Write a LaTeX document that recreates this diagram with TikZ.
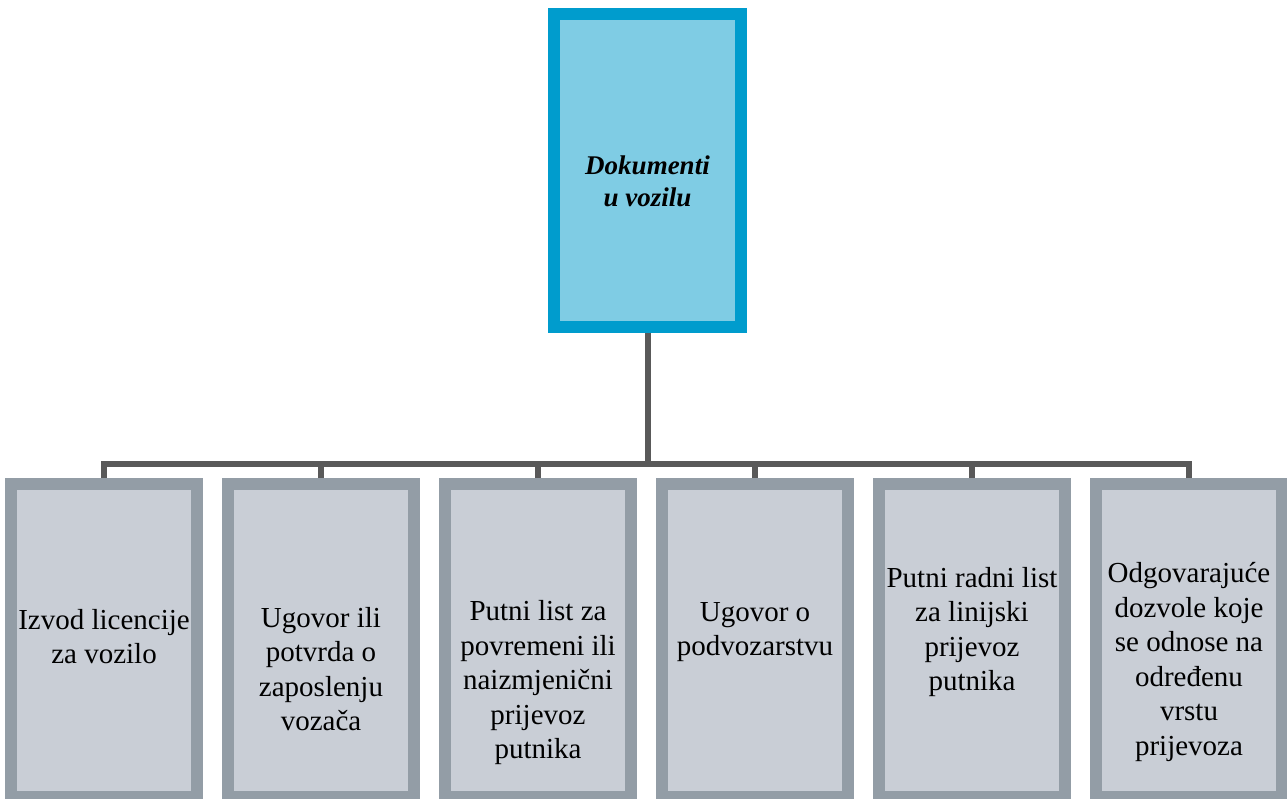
\documentclass[tikz,border=0pt]{standalone}
\usepackage{fontspec}
\setmainfont{Liberation Serif}
\definecolor{headline}{HTML}{009CCD}
\definecolor{headfill}{HTML}{7FCCE4}
\definecolor{itemline}{HTML}{939DA6}
\definecolor{itemfill}{HTML}{C9CED6}
\definecolor{linkgray}{HTML}{595959}
\begin{document}
\begin{tikzpicture}[x=1pt,y=-1pt,
    headbox/.style={draw=headline,fill=headfill,line width=12pt,
      minimum width=187pt,minimum height=313pt,inner sep=0pt},
    itembox/.style={draw=itemline,fill=itemfill,line width=12pt,
      minimum width=186pt,minimum height=313pt,inner sep=0pt},
    headtext/.style={align=center,inner sep=0pt,
      font=\fontsize{27}{32}\selectfont\bfseries\itshape},
    itemtext/.style={align=center,inner sep=0pt,
      font=\fontsize{29}{34.5}\selectfont},
    link/.style={draw=linkgray,line width=6pt}]
  \useasboundingbox (0,0) rectangle (1287,799);
  % boxes
  \node[headbox] (doc) at (647.5,170.5) {};
  \node[itembox] (b1) at (104,640.5) {};
  \node[itembox] (b2) at (321,640.5) {};
  \node[itembox] (b3) at (538,640.5) {};
  \node[itembox] (b4) at (755,640.5) {};
  \node[itembox] (b5) at (972,640.5) {};
  \node[itembox] (b6) at (1189,640.5) {};
  % texts
  \node[headtext] (doct) at (647.5,181) {Dokumenti\\u vozilu};
  \node[itemtext] (t1) at (104,636.5) {Izvod licencije\\za vozilo};
  \node[itemtext] (t2) at (321,669) {Ugovor ili\\potvrda o\\zaposlenju\\vozača};
  \node[itemtext] (t3) at (538,683) {Putni list za\\povremeni ili\\naizmjenični\\prijevoz\\putnika};
  \node[itemtext] (t4) at (755,632) {Ugovor o\\podvozarstvu};
  \node[itemtext] (t5) at (972,632) {Putni radni list\\za linijski\\prijevoz\\putnika};
  \node[itemtext] (t6) at (1189,662) {Odgovarajuće\\dozvole koje\\se odnose na\\određenu\\vrstu\\prijevoza};
  % connectors
  \coordinate (bus) at (647.5,464);
  \draw[link] (doc.south) -- (bus);
  \foreach \i in {1,...,6}
    \draw[link] (b\i.north) |- (bus);
\end{tikzpicture}
\end{document}
